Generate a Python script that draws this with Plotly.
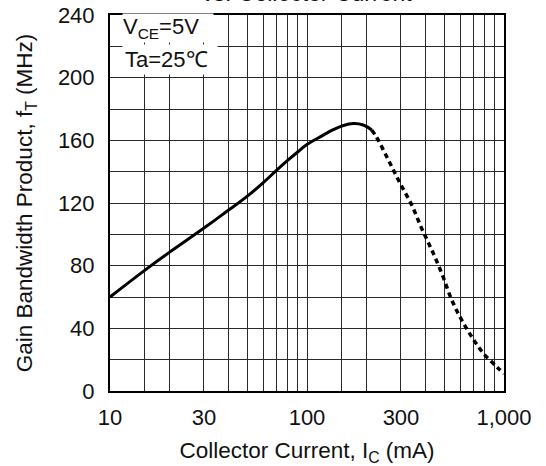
import plotly.graph_objects as go

# Data
ic_solid = [10, 15, 20, 30, 40, 50, 60, 70, 80, 90, 100, 121, 136, 150, 172, 193, 213]
ft_solid = [60, 77, 88.5, 104, 115.5, 124.5, 133, 140.8, 147.3, 152.7, 157.3, 163.3, 166.8, 169.1, 170.8, 169.8, 166.6]
ic_dash = [213, 226, 259, 294, 340, 382, 430, 483, 543, 610, 694, 785, 918, 1000]
ft_dash = [166.6, 161.8, 147.4, 133.6, 118.7, 103.8, 90, 75.1, 58.1, 45.3, 33.6, 24.1, 15.5, 11]

x_tickvals = [10, 30, 100, 300, 1000]
x_ticktext = ["10", "30", "100", "300", "1,000"]
x_minor = [15, 20, 40, 50, 60, 70, 80, 90, 150, 200, 400, 500, 600, 700, 800, 900]
y_tickvals = [0, 40, 80, 120, 160, 200, 240]

FONT = "Liberation Sans, Arial, sans-serif"
GRID = "#2a2a2a"

fig = go.Figure()
fig.add_trace(go.Scatter(x=ic_solid, y=ft_solid, mode="lines",
                         line=dict(color="black", width=3, shape="spline", smoothing=1.3),
                         showlegend=False))
fig.add_trace(go.Scatter(x=ic_dash, y=ft_dash, mode="lines",
                         line=dict(color="black", width=3.5, dash="5px,4px", shape="spline", smoothing=1),
                         showlegend=False))

fig.update_layout(
    width=546, height=466,
    margin=dict(l=110, r=42, t=15, b=75),
    paper_bgcolor="white", plot_bgcolor="white",
    font=dict(family=FONT, size=22, color="#111"),
    xaxis=dict(type="log", range=[1, 3], automargin=False,
               tickvals=x_tickvals, ticktext=x_ticktext,
               showgrid=True, gridcolor=GRID, gridwidth=1,
               minor=dict(tickvals=x_minor, showgrid=True, gridcolor=GRID, gridwidth=1),
               showline=True, linecolor="black", linewidth=2, mirror=True,
               ticks="", ticklabelstandoff=6,
               tickfont=dict(size=22),
               title=dict(text="Collector Current, I<sub>C</sub> (mA)", font=dict(size=22.5), standoff=18),
               zeroline=False),
    yaxis=dict(range=[0, 240], automargin=False,
               tickvals=y_tickvals,
               showgrid=True, gridcolor=GRID, gridwidth=1,
               minor=dict(dtick=20, showgrid=True, gridcolor=GRID, gridwidth=1),
               showline=True, linecolor="black", linewidth=2, mirror=True,
               ticks="", ticklabelstandoff=9,
               tickfont=dict(size=22),
               title=dict(text="Gain Bandwidth Product, f<sub>T</sub> (MHz)", font=dict(size=22.5), standoff=19),
               zeroline=False),
)

fig.add_annotation(text="V<sub>CE</sub>=5V", xref="paper", yref="paper",
                   x=0.03, y=0.965, xanchor="left", yanchor="middle",
                   showarrow=False, bgcolor="white", width=90, align="left",
                   font=dict(size=22), borderpad=0)
fig.add_annotation(text="Ta=25℃", xref="paper", yref="paper",
                   x=0.03, y=0.882, xanchor="left", yanchor="middle",
                   showarrow=False, bgcolor="white", width=90, align="left",
                   font=dict(size=22), borderpad=2)
fig.add_annotation(text="vs. Collector Current", xref="paper", yref="paper",
                   x=0.5, y=1.0, yshift=7, xanchor="center", yanchor="bottom",
                   showarrow=False, font=dict(size=23))

fig.write_html("out.html")
